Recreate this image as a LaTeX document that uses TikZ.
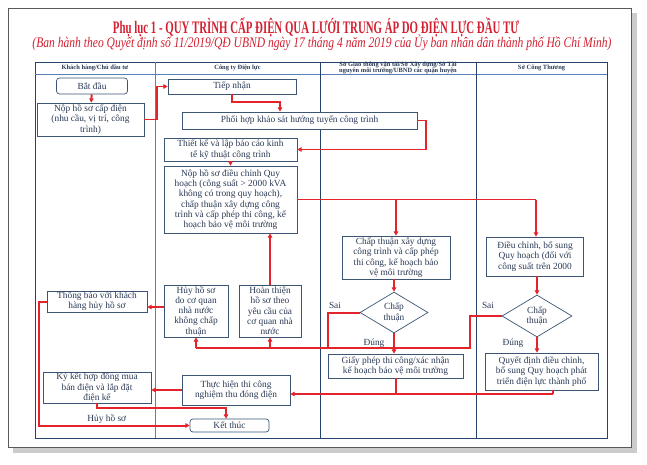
\documentclass[tikz,border=0pt]{standalone}
\usepackage{fontspec}
\setmainfont{Liberation Serif}
\usepackage{graphicx}
\usetikzlibrary{positioning,shapes.geometric,arrows.meta}
\definecolor{laneA}{HTML}{5A80B8}
\definecolor{laneB}{HTML}{24436B}
\definecolor{boxline}{HTML}{3B5573}
\definecolor{txt}{HTML}{2B3A55}
\definecolor{flow}{HTML}{E3242B}
\definecolor{ttl}{HTML}{D42030}
\tikzset{sz/.style 2 args={minimum width=#1*0.3mm, minimum height=#2*0.3mm}}

\begin{document}
\begin{tikzpicture}[x=0.3mm, y=-0.3mm,
  box/.style={draw=boxline, fill=white, text=txt, align=center, inner sep=0.5pt, line width=0.6pt, font=\fontsize{8}{8.8}\selectfont},
  term/.style={box, rounded corners=2.5pt},
  dec/.style={diamond, draw=boxline, fill=white, text=txt, align=center, inner sep=0pt, line width=0.6pt, font=\fontsize{8}{8.8}\selectfont},
  lbl/.style={text=txt, inner sep=1pt, font=\fontsize{8}{8.8}\selectfont},
  hdr/.style={text=txt, align=center, inner sep=0pt, font=\fontsize{5.5}{5.8}\selectfont\bfseries},
  ln/.style={draw=flow, line width=1.7pt},
  go/.style={ln, -{Triangle[length=3.6pt,width=3.8pt]}}]
	\useasboundingbox (0,0) rectangle (647,464);
	% page
	\fill[gray!40] (13,13) rectangle (637,453);
	\draw[gray!70!black, fill=white, line width=0.5pt] (8,8) rectangle (631,447);
	\node[text=ttl, anchor=base] (title) at (316,33) {\resizebox{121.8mm}{\height}{\fontsize{15}{15}\selectfont\bfseries Phụ lục 1 - QUY TRÌNH CẤP ĐIỆN QUA LƯỚI TRUNG ÁP DO ĐIỆN LỰC ĐẦU TƯ}};
	\node[text=ttl, anchor=base] (subtitle) at (322,47) {\resizebox{173.7mm}{\height}{\fontsize{12.5}{12.5}\selectfont\itshape (Ban hành theo Quyết định số 11/2019/QĐ UBND ngày 17 tháng 4 năm 2019 của Ủy ban nhân dân thành phố Hồ Chí Minh)}};

	% lanes
	\draw[laneB, line width=0.8pt] (35,62) rectangle (607,438);
	\draw[laneA, line width=0.8pt] (35,74) -- (607,74);
	\draw[laneA, line width=0.8pt] (155,62) -- (155,438);
	\draw[laneB, line width=0.8pt] (320,62) -- (320,438);
	\draw[laneB, line width=0.8pt] (476,62) -- (476,438);
	\node[hdr] (h1) at (95,68) {Khách hàng/Chủ đầu tư};
	\node[hdr] (h2) at (237.5,68) {Công ty Điện lực};
	\node[hdr] (h3) at (398,68) {Sở Giao thông vận tải/Sở Xây dựng/Sở Tài\\nguyên môi trường/UBND các quận huyện};
	\node[hdr] (h4) at (541.5,68) {Sở Công Thương};

	\node[term, sz={71}{16}] (start) at (92,86) {Bắt đầu};
	\node[box, sz={107}{33}] (nop) at (90.5,119.5) {Nộp hồ sơ cấp điện\\(nhu cầu, vị trí, công\\trình)};
	\node[box, sz={128}{15}] (tiep) at (232,86.5) {Tiếp nhận};
	\node[box, sz={235}{17}] (phoi) at (299.5,120.5) {Phối hợp khảo sát hướng tuyến công trình};
	\node[box, sz={133}{23}] (thiet) at (230.5,149.5) {Thiết kế và lập báo cáo kinh\\tế kỹ thuật công trình};
	\node[box, sz={133}{67}] (nopdc) at (230.5,199.5) {Nộp hồ sơ điều chỉnh Quy\\hoạch (công suất > 2000 kVA\\không có trong quy hoạch),\\chấp thuận xây dựng công\\trình và cấp phép thi công, kế\\hoạch bảo vệ môi trường};
	\node[box, sz={108}{43}] (chapxd) at (396,257.5) {Chấp thuận xây dựng\\công trình và cấp phép\\thi công, kế hoạch bảo\\vệ môi trường};
	\node[box, sz={97}{39}] (dieuch) at (535,256.5) {Điều chỉnh, bổ sung\\Quy hoạch (đối với\\công suất trên 2000};
	\node[dec, sz={68}{41}] (d1) at (394,312.5) {Chấp\\thuận};
	\node[dec, sz={70}{42}] (d2) at (537,316) {Chấp\\thuận};
	\node[box, sz={135}{24}] (giay) at (395.5,366) {Giấy phép thi công/xác nhận\\kế hoạch bảo vệ môi trường};
	\node[box, sz={113}{37}] (quyet) at (541.5,371.5) {Quyết định điều chỉnh,\\bổ sung Quy hoạch phát\\triển điện lực thành phố};
	\node[box, sz={108}{30}] (thuc) at (236,390) {Thực hiện thi công\\nghiệm thu đóng điện};
	\node[box, sz={108}{31}] (kyket) at (97,387.5) {Ký kết hợp đồng mua\\bán điện và lắp đặt\\điện kế};
	\node[term, sz={79}{13}] (end) at (229.5,425.5) {Kết thúc};
	\node[box, sz={100}{21}] (thong) at (97,301.5) {Thông báo với khách\\hàng hủy hồ sơ};
	\node[box, sz={64}{52}] (huy) at (196,311) {Hủy hồ sơ\\do cơ quan\\nhà nước\\không chấp\\thuận};
	\node[box, sz={62}{52}] (hoan) at (270,311) {Hoàn thiện\\hồ sơ theo\\yêu cầu của\\cơ quan nhà\\nước};

	\node[lbl] (sai1) at (335,305) {Sai};
	\node[lbl] (sai2) at (488,305) {Sai};
	\node[lbl] (dung1) at (374,343) {Đúng};
	\node[lbl] (dung2) at (513,343) {Đúng};

	\coordinate (j1) at (157,86.5);
	\coordinate (j2) at (280,102);
	\coordinate (j3) at (426,149.5);
	\coordinate (j4) at (536,199.5);
	\coordinate (s1) at (328,348);
	\coordinate (s2) at (470,348);
	\coordinate (j6) at (553,394);
	\coordinate (j7) at (226,408);
	\coordinate (j8) at (39,425.5);

	\draw[go] (start) -- (nop);
	\draw[go] (nop.east) -| (j1) -- (tiep.west);
	\draw[go] (tiep.south) |- (j2) -- (j2 |- phoi.north);
	\draw[go] (phoi.east) -| (j3) -- (thiet.east);
	\draw[go] (thiet) -- (nopdc);
	\draw[ln] (nopdc.east) -- (j4);
	\draw[go] (chapxd.north |- j4) -- (chapxd.north);
	\draw[go] (j4) -- (j4 |- dieuch.north);
	\draw[go] (d1 |- chapxd.south) -- (d1.north);
	\draw[go] (d2 |- dieuch.south) -- (d2.north);
	\draw[go] (d1.south) -- (d1.south |- giay.north);
	\draw[go] (d2.south) -- (d2.south |- quyet.north);
	\draw[ln] (d2.west) -| (s2) -- (s1);
	\draw[ln] (d1.west) -| (s1) -- (huy.south |- s1);
	\draw[go] (huy.south |- s1) -- (huy.south);
	\draw[go] (hoan.south |- s1) -- (hoan.south);
	\draw[go] (hoan.north) -- (hoan.north |- nopdc.south);
	\draw[go] (huy.173) -- (huy.173 -| thong.east);
	\draw[ln] (quyet.south -| j6) -- (j6);
	\draw[ln] (giay.south) -- (giay.south |- j6);
	\draw[go] (j6) -- (j6 -| thuc.east);
	\draw[go] (thuc.west) -- (thuc.west -| kyket.east);
	\draw[go] (kyket.south) |- (j7) -- (j7 |- end.north);
	\draw[go] (thong.west) -| (j8) -- node[lbl, above, pos=0.45] {Hủy hồ sơ} (end.west);
\end{tikzpicture}
\end{document}
